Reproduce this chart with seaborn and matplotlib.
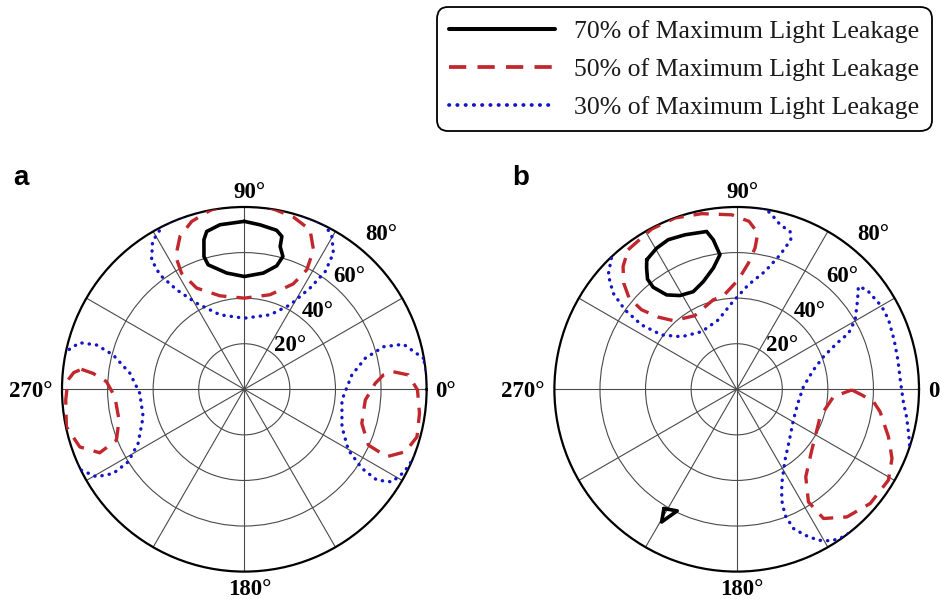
import numpy as np
import matplotlib
matplotlib.use("Agg")
import matplotlib.pyplot as plt
import seaborn as sns
from matplotlib.lines import Line2D

# ---------------- data (theta in degrees: 0 = right, counter-clockwise; r = polar angle in degrees) ----
# Panel a
a70_theta = [90, 98.4, 103.4, 105.1, 106.9, 106.2, 98.6, 90, 80.7, 75.3, 73.8, 75.9, 76.2, 78.5, 84.5]
a70_r     = [73.7, 73.0, 71.2, 68.0, 60.9, 56.9, 51.6, 49.5, 51.7, 56.0, 60.7, 64.6, 69.1, 71.2, 72.5]

a50_top_theta = [90, 100.9, 107.4, 112.8, 117.3, 118.4, 115.2, 104.6, 90, 74.8, 65.1, 62.4, 63.6, 67.6, 74.1, 79.7]
a50_top_r     = [84, 79.9, 77.2, 72.8, 65.6, 57.9, 49.1, 42.4, 40.0, 43.0, 51.0, 59.2, 68.3, 75.7, 78.6, 79.8]
a50_right_theta = [6.7, 5.0, -0.2, -7.8, -15.4, -21.2, -25.3, -24.2, -16.2, -5.1, 2.6, 5.9]
a50_right_r     = [65.9, 72.3, 76.0, 77.6, 78.6, 75.8, 69.2, 59.7, 53.7, 53.3, 57.5, 61.4]
a50_left_theta = [173.0, 174.0, 176.8, 183.3, 193.8, 201.7, 203.7, 199.3, 191.9, 183.4, 177.0, 174.4]
a50_left_r     = [72.0, 66.7, 60.6, 56.9, 56.6, 60.4, 69.3, 76.5, 79.8, 78.5, 77.5, 75.2]

a30_top_theta = [116.2, 121.8, 125.6, 126.4, 124.2, 119.0, 108.1, 90, 70.9, 61.5, 57.0, 55.5, 56.8, 60.2, 63.8, 90]
a30_top_r     = [80.5, 76.4, 69.9, 62.4, 52.8, 43.2, 34.4, 31.2, 34.6, 42.2, 53.0, 62.7, 71.4, 77.3, 80.4, 87]
a30_right_theta = [9.8, 15.8, 17.0, 14.4, 7.6, -6.3, -21.0, -30.3, -33.9, -34.4, -32.1, -27.3, -10]
a30_right_r     = [79.8, 72.6, 63.9, 54.8, 47.6, 43.1, 45.9, 52.9, 62.2, 70.5, 76.5, 79.0, 86]
a30_left_theta = [168.8, 164.2, 163.3, 165.3, 172.0, 182.2, 195.2, 207.0, 212.0, 212.7, 210.6, 206.0, 187]
a30_left_r     = [81.1, 75.1, 67.7, 59.5, 50.7, 45.9, 46.0, 52.3, 60.1, 68.4, 75.4, 80.3, 86]

# Panel b
b70_main_theta = [124.8, 119.6, 114.6, 108.5, 100.8, 98.9, 97.1, 100.9, 107.2, 114.0, 121.2, 126.6, 129.3, 129.0, 126.6]
b70_main_r     = [69.2, 71.2, 72.2, 71.5, 70.5, 66.4, 59.5, 54.2, 49.5, 46.9, 48.1, 51.6, 57.9, 62.2, 66.3]
b70_small_theta = [238.6, 243.9, 240.5]
b70_small_r     = [61.3, 59.4, 66.9]

b50_top_theta = [127.9, 118.0, 109.8, 101.3, 91.6, 85.8, 82.3, 82.6, 84.7, 89.2, 98.2, 104.7, 119.8,
                 132.7, 137.4, 140.1, 139.7, 136.8, 132.8]
b50_top_r     = [77.6, 79.6, 79.9, 78.6, 76.6, 73.9, 69.2, 62.5, 55.6, 48.0, 41.4, 40.6, 37.2,
                 41.0, 46.8, 54.4, 61.9, 68.0, 73.4]
b50_bot_theta = [-0.3, -2.6, -5.2, -8.9, -17.4, -24.0, -30.9, -40.5, -49.2, -56.1, -57.5, -51.7, -39.0, -22.6, -18.2, -4.4]
b50_bot_r     = [50.5, 55.0, 60.3, 63.7, 69.8, 74.6, 77.6, 77.1, 74.0, 68.3, 58.6, 48.9, 42.4, 38.9, 38.5, 42.6]

b30_top_theta = [133.7, 138.3, 142.1, 144.6, 145.9, 144.1, 136.3, 121.3, 104.9, 93.3, 83.7, 76.5, 72.1,
                 70.1, 71.3, 75.2, 78.6, 80.8, 100, 125]
b30_top_r     = [79.6, 75.5, 68.7, 60.2, 50.4, 40.7, 33.4, 29.6, 31.5, 37.9, 46.1, 53.2, 62.0,
                 69.8, 73.1, 74.7, 78.1, 80.1, 87, 87]
b30_right_theta = [-54.6, -57.9, -61.6, -64.9, -67.8, -69.0, -67.9, -64.4, -55.7, -43.9, -28.5, -13.5,
                   2.2, 14.1, 20.6, 24.7, 26.6, 30.4, 36.5, 40.2, 37.4, 29.7, 24.6, 17.4, 10.3, 3.3,
                   -4.5, -9.2, -14.4, -20.3, -37]
b30_right_r     = [79.7, 78.5, 75.3, 70.7, 66.0, 59.2, 52.5, 45.8, 37.6, 32.1, 28.3, 27.5,
                   29.3, 34.7, 40.7, 48.4, 54.9, 60.3, 66.0, 69.9, 71.9, 73.3, 73.3, 72.4, 71.9, 71.9,
                   73.4, 75.5, 77.9, 81.2, 86]

# ticks / labels
theta_grid = list(range(0, 360, 30))
theta_labels_a = ["0°", "90°", "270°", "180°"]     # as printed at right, top, left, bottom
theta_labels_b = ["0", "90°", "270°", "180°"]      # right label of panel b is cut at the edge
r_ticks = [20, 40, 60, 80]
r_tick_labels = ["20°", "40°", "60°", "80°"]
legend_labels = ["70% of Maximum Light Leakage",
                 "50% of Maximum Light Leakage",
                 "30% of Maximum Light Leakage"]
panel_letters = ["a", "b"]

# ---------------- styles ----------------
RED = "#C1272D"
BLUE = "#1414C8"
styles = {
    70: dict(color="black", lw=2.6, ls="-"),
    50: dict(color=RED, lw=2.4, ls=(0, (4.6, 3.0))),
    30: dict(color=BLUE, lw=2.4, ls=(0, (0.1, 2.1))),
}

sns.set_theme(style="white")
plt.rcParams["font.family"] = ["Liberation Serif", "DejaVu Serif"]
plt.rcParams["text.color"] = "black"

W, H = 942, 599
fig = plt.figure(figsize=(W / 100, H / 100), dpi=100)

R_PX = 182.3
centers = [(244.3, 389.3), (736.7, 389.3)]

panels = [
    [(70, a70_theta, a70_r),
     (50, a50_top_theta, a50_top_r), (50, a50_right_theta, a50_right_r), (50, a50_left_theta, a50_left_r),
     (30, a30_top_theta, a30_top_r), (30, a30_right_theta, a30_right_r), (30, a30_left_theta, a30_left_r)],
    [(70, b70_main_theta, b70_main_r), (70, b70_small_theta, b70_small_r),
     (50, b50_top_theta, b50_top_r), (50, b50_bot_theta, b50_bot_r),
     (30, b30_top_theta, b30_top_r), (30, b30_right_theta, b30_right_r)],
]
theta_label_sets = [theta_labels_a, theta_labels_b]

rlab_pos = [(43.7, 27.8), (46.6, 46.9), (47.0, 67.6), (48.5, 90.5)]
tick_font = dict(family=["Liberation Serif", "DejaVu Serif"], weight="bold", size=16.5, color="black")

for i, (cx, cy) in enumerate(centers):
    ax = fig.add_axes([(cx - R_PX) / W, (H - cy - R_PX) / H, 2 * R_PX / W, 2 * R_PX / H],
                      projection="polar")
    ax.set_facecolor("white")
    for level, th, rr in panels[i]:
        th_c = np.deg2rad(np.r_[th, th[:1]])
        r_c = np.r_[rr, rr[:1]]
        st = styles[level]
        sns.lineplot(x=th_c, y=r_c, ax=ax, sort=False, estimator=None,
                     color=st["color"], linewidth=st["lw"], linestyle=st["ls"],
                     dash_capstyle="round" if level == 30 else "butt", zorder=3)
    ax.set_ylim(0, 80)
    ax.set_xticks(np.deg2rad(theta_grid))
    ax.set_xticklabels([])
    ax.set_yticks(r_ticks[:-1])
    ax.set_yticklabels([])
    ax.grid(True, color="#4a4a4a", linewidth=0.8)
    ax.spines["polar"].set_color("black")
    ax.spines["polar"].set_linewidth(1.6)
    ax.set_xlabel("")
    ax.set_ylabel("")
    ax.tick_params(length=0)

    labs = theta_label_sets[i]
    ax.annotate(labs[0], xy=(0, 80), xytext=(6.3, -5.3), textcoords="offset points",
                ha="left", va="baseline", annotation_clip=False, **tick_font)
    ax.annotate(labs[1], xy=(np.pi / 2, 80), xytext=(3.8, 6.3), textcoords="offset points",
                ha="center", va="baseline", annotation_clip=False, **tick_font)
    ax.annotate(labs[2], xy=(np.pi, 80), xytext=(-7.0, -5.3), textcoords="offset points",
                ha="right", va="baseline", annotation_clip=False, **tick_font)
    ax.annotate(labs[3], xy=(1.5 * np.pi, 80), xytext=(3.8, -16.8), textcoords="offset points",
                ha="center", va="baseline", annotation_clip=False, **tick_font)
    for (tdeg, rr), lab in zip(rlab_pos, r_tick_labels):
        ax.text(np.deg2rad(tdeg), rr, lab, ha="center", va="center", clip_on=False, **tick_font)

    fig.text((13 if i == 0 else 512) / W, 1 - 185 / H, panel_letters[i],
             family=["Liberation Sans", "DejaVu Sans"], weight="bold", size=20,
             va="baseline", color="black")

handles = [Line2D([], [], color=styles[k]["color"], linewidth=styles[k]["lw"] + 0.3,
                  linestyle=styles[k]["ls"], dash_capstyle="round" if k == 30 else "butt")
           for k in (70, 50, 30)]
leg = fig.legend(handles, legend_labels, loc="upper right",
                 bbox_to_anchor=(932 / W, 1 - 7 / H),
                 prop=dict(family=["Liberation Serif", "DejaVu Serif"], size=18.5),
                 handlelength=4.1, handletextpad=0.75, labelspacing=0.58, borderpad=0.5,
                 frameon=True, fancybox=True, borderaxespad=0)
for t in leg.get_texts():
    t.set_color("#1a1a1a")
frame = leg.get_frame()
frame.set_edgecolor("black")
frame.set_linewidth(1.3)
frame.set_facecolor("white")
frame.set_alpha(1)
frame.set_boxstyle("round", pad=0, rounding_size=0.45)

fig.savefig("out.png", dpi=100, facecolor="white")
